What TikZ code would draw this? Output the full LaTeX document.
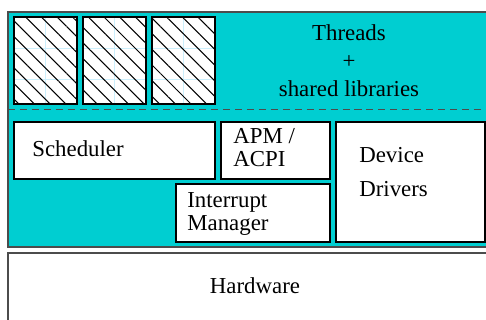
\documentclass[tikz,border=0pt]{standalone}
\usepackage{fontspec}
\setmainfont{Liberation Serif}
\usetikzlibrary{patterns.meta}
\definecolor{kernelcyan}{RGB}{0,206,209}

\begin{document}
\begin{tikzpicture}[x=0.02cm, y=-0.02cm,
  every node/.style={font=\fontsize{13}{13}\selectfont, inner sep=0pt},
  box/.style={draw=black, fill=white, line width=0.6pt},
  layer/.style={draw=black!70, line width=0.8pt}]

  % parameters
  \def\tw{63}      % thread block width
  \def\th{87}      % thread block height
  \def\gap{6.3pt}  % hatch spacing

  \clip (0,0) rectangle (486,320);

  % ---- kernel layer ----
  \filldraw[layer, fill=kernelcyan] (8,12) rectangle (500,247);

  % ---- threads (hatched blocks) ----
  \foreach \x in {14,83,152} {
    \fill[white] (\x,17) rectangle ++(\tw,\th);
    \draw[cyan!20, line width=0.3pt]
      (\x+31,17) -- ++(0,\th) (\x,48) -- ++(\tw,0) (\x,79) -- ++(\tw,0);
    \draw[line width=0.6pt, pattern={Lines[angle=-45, distance=\gap, line width=0.6pt]}]
      (\x,17) rectangle ++(\tw,\th);
  }
  \node[align=center, font=\fontsize{13}{16}\selectfont] (threads) at (349,61)
    {Threads\\+\\shared libraries};

  % user / kernel separation
  \draw[black!70, line width=0.8pt, dash pattern=on 4pt off 2.8pt] (8,109.5) -- (500,109.5);

  % ---- kernel components ----
  \filldraw[box] (14,122) rectangle (215,179);
  \node[anchor=west] (sched) at (32,149) {Scheduler};

  \filldraw[box] (221,122) rectangle (330,179);
  \node[anchor=west, align=left] (apm) at (233,147.5) {APM /\\ACPI};

  \filldraw[box] (176,184) rectangle (330,242);
  \node[anchor=west, align=left] (irq) at (187,214) {Interrupt\\Manager};

  \filldraw[box] (336,122) rectangle (485,242);
  \node[anchor=west, align=left, font=\fontsize{13}{19}\selectfont] (drivers) at (359,172)
    {Device\\Drivers};

  % ---- hardware layer ----
  \filldraw[layer, fill=white] (8,253) rectangle (500,340);
  \node (hw) at (255,286) {Hardware};

\end{tikzpicture}
\end{document}
